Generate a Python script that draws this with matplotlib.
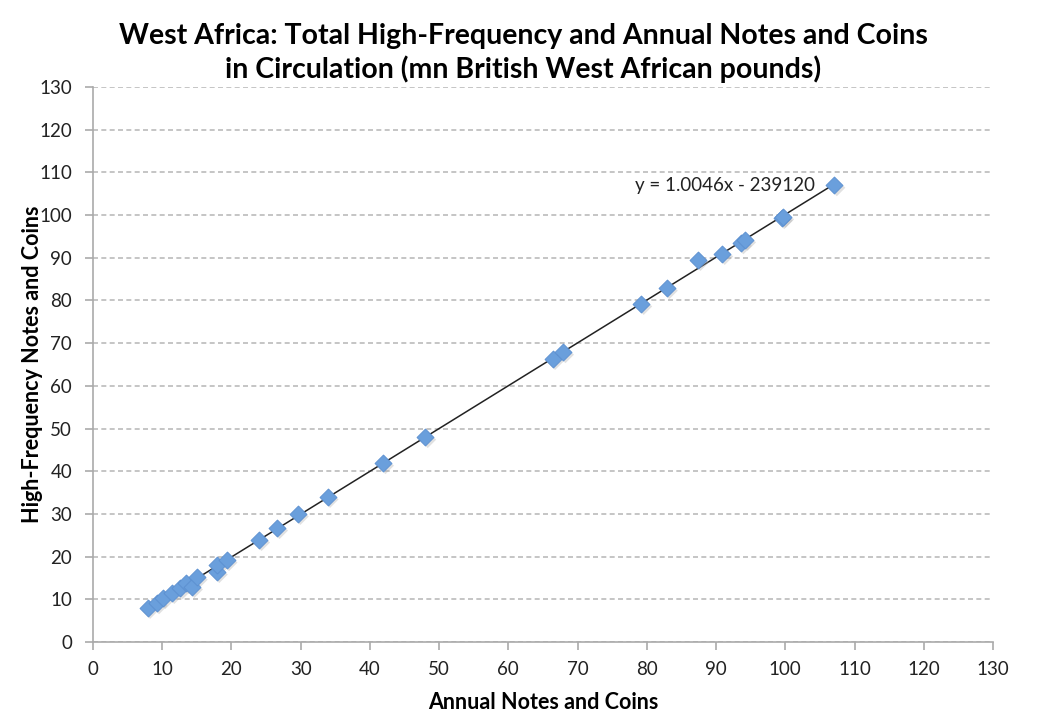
import numpy as np
import matplotlib
matplotlib.use('Agg')
import matplotlib.pyplot as plt

# annual vs high-frequency notes and coins (mn BWA pounds)
annual = [7.9, 9.2, 10.1, 11.4, 12.6, 13.5, 14.3, 15.0, 17.9, 17.9, 19.3,
          24.0, 26.6, 29.6, 33.9, 41.9, 48.0, 66.4, 67.9, 79.2, 82.9,
          87.4, 90.9, 93.6, 94.2, 99.5, 99.7, 107.1]
high_freq = [8.0, 9.1, 10.3, 11.5, 12.6, 13.8, 12.9, 15.2, 16.4, 18.0, 19.2,
             23.9, 26.7, 30.0, 34.0, 41.9, 48.0, 66.3, 67.9, 79.2, 82.9,
             89.5, 90.9, 93.4, 94.2, 99.3, 99.6, 107.0]
ticks = list(range(0, 131, 10))
trend_label = 'y = 1.0046x - 239120'

plt.rcParams['font.family'] = ['Lato', 'DejaVu Sans']

fig = plt.figure(figsize=(10.47, 7.22), dpi=100)
ax = fig.add_axes([0.0888, 0.1108, 0.8596, 0.7687])

x = np.array(annual)
y = np.array(high_freq)

# linear trendline through the data
slope, icpt = np.polyfit(x, y, 1)
xs = np.array([x.min(), x.max()])
ax.plot(xs, slope * xs + icpt, color='#222222', lw=1.1, zorder=2)

ax.scatter(x + 0.35, y - 0.6, marker='D', s=75, color='#aaaaaa', alpha=0.35,
           edgecolors='none', zorder=2.5)
ax.scatter(x, y, marker='D', s=75, color='#6a9fdc', edgecolors='#5b8fd0',
           linewidths=0.6, zorder=3)

ax.text(x.max() - 2.8, slope * x.max() + icpt - 0.3, trend_label,
        ha='right', va='center', fontsize=13.5, color='#222222', zorder=4)

ax.set_xlim(0, 130)
ax.set_ylim(0, 130)
ax.set_xticks(ticks)
ax.set_yticks(ticks)
ax.tick_params(labelsize=13.5, colors='#222222', length=6, color='#aaaaaa',
               width=1.2)
ax.tick_params(axis='x', pad=8)
ax.tick_params(axis='y', pad=9)
ax.grid(axis='y', linestyle=(0, (3, 2)), color='#bbbbbb', lw=1.2)
ax.set_axisbelow(True)
for s in ['top', 'right']:
    ax.spines[s].set_visible(False)
for s in ['left', 'bottom']:
    ax.spines[s].set_color('#aaaaaa')
    ax.spines[s].set_linewidth(1.2)

ax.set_xlabel('Annual Notes and Coins', fontsize=15.5, fontweight='bold', labelpad=10)
ax.set_ylabel('High-Frequency Notes and Coins', fontsize=15.5, fontweight='bold')
ax.yaxis.set_label_coords(-0.056, 0.5)
fig.suptitle('West Africa: Total High-Frequency and Annual Notes and Coins\n'
             'in Circulation (mn British West African pounds)',
             fontsize=20.5, fontweight='bold', y=0.968, linespacing=1.3)

fig.savefig('out.png', dpi=100)
